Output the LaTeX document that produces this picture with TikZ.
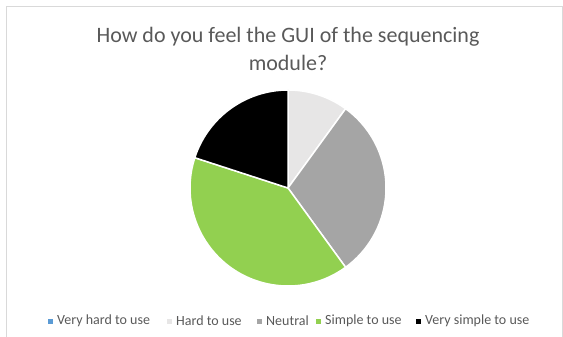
\documentclass[tikz,border=0pt]{standalone}
\usepackage{fontspec}
\setmainfont{Carlito}
\usetikzlibrary{positioning}
\definecolor{txtgray}{HTML}{595959}
\definecolor{framegray}{HTML}{D9D9D9}
\definecolor{vhardc}{HTML}{5B9BD5}
\definecolor{hardc}{HTML}{E7E6E6}
\definecolor{neutc}{HTML}{A5A5A5}
\definecolor{simpc}{HTML}{92D050}
\definecolor{vsimpc}{HTML}{000000}
\begin{document}
\begin{tikzpicture}[x=1pt, y=1pt]
      \tikzset{slice/.style={draw=white, line width=1.5pt, line join=round},
        legbox/.style={inner sep=0pt, minimum size=5pt},
        legtext/.style={anchor=west, inner sep=0pt, text=txtgray, font=\fontsize{14}{16}\selectfont}}
      \path[use as bounding box] (0,0) rectangle (563,-337);
      \draw[framegray, line width=0.8pt] (6.5,-360) -- (6.5,-6.5) -- (562,-6.5) -- (562,-360);

      \node[text=txtgray, align=center, font=\fontsize{22}{28}\selectfont] (title) at (288,-49)
        {How do you feel the GUI of the sequencing\\module?};

      % pie, clockwise from the top
      \coordinate (ctr) at (288,-188);
      \foreach \a/\b/\c in {90/54/hardc, 54/-54/neutc, -54/-198/simpc, -198/-270/vsimpc} {
        \filldraw[slice, fill=\c] (ctr) -- ++(\a:98) arc (\a:\b:98) -- cycle;
      }

      % legend
      \node[legtext] (t1) at (57,-321) {Very hard to use};
      \node[legtext] (t2) at (176,-321) {Hard to use};
      \node[legtext] (t3) at (266,-321) {Neutral};
      \node[legtext] (t4) at (325,-321) {Simple to use};
      \node[legtext] (t5) at (425,-321) {Very simple to use};
      \node[legbox, fill=vhardc, left=4pt of t1] (m1) {};
      \node[legbox, fill=hardc, left=4pt of t2] (m2) {};
      \node[legbox, fill=neutc, left=4pt of t3] (m3) {};
      \node[legbox, fill=simpc, left=4pt of t4] (m4) {};
      \node[legbox, fill=vsimpc, left=4pt of t5] (m5) {};
    \end{tikzpicture}
\end{document}
